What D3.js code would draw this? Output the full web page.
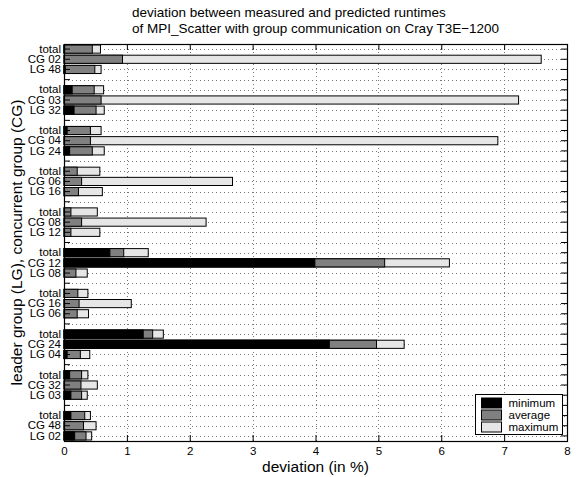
<!DOCTYPE html>
<html>
<head>
<meta charset="utf-8">
<script src="https://cdn.jsdelivr.net/npm/d3@7"></script>
<style>
  html, body { margin: 0; padding: 0; background: #fff; }
  svg { display: block; font-family: "Liberation Sans", Arial, sans-serif; }
</style>
</head>
<body>
<script>
// ---- data ----
const titleLines = ["deviation between measured and predicted runtimes",
                    "of MPI_Scatter with group communication on Cray T3E\u22121200"];
const rowLabels = ["total","CG 02","LG 48","total","CG 03","LG 32","total","CG 04","LG 24",
                   "total","CG 06","LG 16","total","CG 08","LG 12","total","CG 12","LG 08",
                   "total","CG 16","LG 06","total","CG 24","LG 04","total","CG 32","LG 03",
                   "total","CG 48","LG 02"];
const minimum = [0.01,0,0.02, 0.13,0,0.16, 0.05,0,0.09, 0,0,0, 0,0,0,
                 0.73,3.99,0, 0,0,0, 1.26,4.22,0.05, 0.09,0,0.11, 0.11,0,0.17];
const average = [0.45,0.93,0.49, 0.48,0.59,0.51, 0.42,0.42,0.45, 0.21,0.28,0.23, 0.11,0.28,0.11,
                 0.95,5.10,0.19, 0.22,0.24,0.21, 1.41,4.97,0.26, 0.28,0.27,0.28, 0.33,0.31,0.35];
const maximum = [0.58,7.59,0.59, 0.63,7.23,0.64, 0.59,6.90,0.64, 0.57,2.68,0.61, 0.53,2.26,0.57,
                 1.34,6.13,0.37, 0.38,1.07,0.39, 1.58,5.41,0.41, 0.38,0.53,0.37, 0.42,0.51,0.44];
const xTicks = [0,1,2,3,4,5,6,7,8];
const seriesNames = ["minimum","average","maximum"];
const seriesColors = ["#000000","#808080","#e6e6e6"];
const xLabel = "deviation (in %)";
const yLabel = "leader group (LG), concurrent group (CG)";

// ---- layout ----
const W = 580, H = 477;
const m = {left: 64, top: 44, right: 13, bottom: 36};
const pw = W - m.left - m.right;   // 503
const ph = H - m.top - m.bottom;   // 397

// Build row keys: 3 rows per group, a gap row between groups
const rows = [];
rowLabels.forEach((lab, i) => {
  rows.push({key: "r" + i, label: lab, idx: i});
  if (i % 3 === 2 && i < rowLabels.length - 1) rows.push({key: "g" + i, label: "", idx: -1});
});

const svg = d3.select("body").append("svg").attr("width", W).attr("height", H);

const x = d3.scaleLinear().domain([0, 8]).range([0, pw]);
const y = d3.scaleBand().domain(rows.map(r => r.key)).range([0, ph]).padding(0);
const labelOf = new Map(rows.map(r => [r.key, r.label]));

const g = svg.append("g").attr("transform", `translate(${m.left},${m.top})`);

// grid
const grid = g.append("g").attr("stroke", "#777").attr("stroke-width", 1)
  .attr("stroke-dasharray", "1,3").attr("shape-rendering", "crispEdges");
grid.selectAll("line.v").data(xTicks.slice(1, -1)).join("line")
  .attr("x1", d => Math.round(x(d)) + 0.5).attr("x2", d => Math.round(x(d)) + 0.5)
  .attr("y1", 0).attr("y2", ph);
grid.selectAll("line.h").data(rows).join("line")
  .attr("x1", 0).attr("x2", pw)
  .attr("y1", d => Math.round(y(d.key) + y.bandwidth() / 2) + 0.5)
  .attr("y2", d => Math.round(y(d.key) + y.bandwidth() / 2) + 0.5);

// bars (drawn overlapping: max, then average, then minimum)
const barH = y.bandwidth() * 0.8;
const dataRows = rows.filter(r => r.idx >= 0);
const seriesVals = [minimum, average, maximum];
[2, 1, 0].forEach(s => {
  g.append("g").selectAll("rect").data(dataRows.filter(r => seriesVals[s][r.idx] > 0)).join("rect")
    .attr("x", x(0))
    .attr("y", r => y(r.key) + (y.bandwidth() - barH) / 2)
    .attr("width", r => x(seriesVals[s][r.idx]) - x(0))
    .attr("height", barH)
    .attr("fill", seriesColors[s])
    .attr("stroke", "#000").attr("stroke-width", 1);
});

// axes
const fs = "11.5px";
const axLeft = g.append("g").call(d3.axisLeft(y).tickSizeInner(-6).tickSizeOuter(0).tickPadding(3)
  .tickFormat(k => labelOf.get(k)));
const axRight = g.append("g").attr("transform", `translate(${pw},0)`)
  .call(d3.axisRight(y).tickSizeInner(-6).tickSizeOuter(0).tickFormat(""));
const axBottom = g.append("g").attr("transform", `translate(0,${ph})`)
  .call(d3.axisBottom(x).tickValues(xTicks).tickSizeInner(-6).tickSizeOuter(0).tickPadding(6)
    .tickFormat(d3.format("d")));
const axTop = g.append("g").call(d3.axisTop(x).tickValues(xTicks).tickSizeInner(-6).tickSizeOuter(0)
  .tickFormat(""));
[axLeft, axRight, axBottom, axTop].forEach(a => {
  a.selectAll("text").attr("font-size", fs).attr("fill", "#000")
    .attr("font-family", "'Liberation Sans', Arial, sans-serif");
  a.selectAll("line,path").attr("stroke", "#000");
  a.attr("font-size", fs);
});

// frame
g.append("rect").attr("x", 0.5).attr("y", 0.5).attr("width", pw).attr("height", ph)
  .attr("fill", "none").attr("stroke", "#000").attr("stroke-width", 1.2);

// legend
const lg = svg.append("g").attr("transform", "translate(475.5,394.5)");
lg.append("rect").attr("width", 87).attr("height", 40).attr("fill", "#fff")
  .attr("stroke", "#000").attr("stroke-width", 1);
seriesNames.forEach((n, i) => {
  lg.append("rect").attr("x", 6).attr("y", 3.5 + i * 12).attr("width", 20).attr("height", 10)
    .attr("fill", seriesColors[i]).attr("stroke", "#000").attr("stroke-width", 1);
  lg.append("text").attr("x", 33).attr("y", 12.5 + i * 12).attr("font-size", fs).text(n);
});

// titles
svg.append("g").selectAll("text").data(titleLines).join("text")
  .attr("x", 132).attr("y", (d, i) => 17 + i * 16)
  .attr("font-size", "13.5px").text(d => d);

svg.append("text").attr("x", m.left + pw / 2).attr("y", 472).attr("text-anchor", "middle")
  .attr("font-size", "15.5px").text(xLabel);
svg.append("text").attr("transform", `translate(22,${m.top + ph / 2}) rotate(-90)`)
  .attr("text-anchor", "middle").attr("font-size", "15.5px").text(yLabel);
</script>
</body>
</html>
